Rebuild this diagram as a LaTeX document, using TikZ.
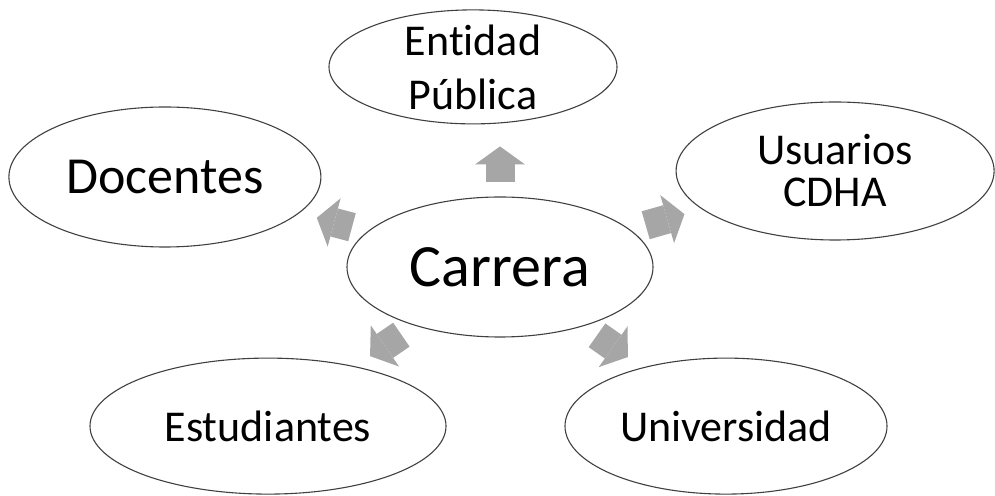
\documentclass[tikz,border=0pt]{standalone}
\usepackage{fontspec}
\setmainfont{Carlito}[Ligatures={NoCommon}]
\usetikzlibrary{arrows.meta,shapes.geometric,positioning}
\definecolor{arrowColor}{RGB}{166,166,166}
\definecolor{borderColor}{RGB}{64,64,64}
\tikzset{entity/.style={ellipse, draw=borderColor, line width=1.1pt, align=center, inner sep=0pt, font=\fontsize{44}{54}\selectfont}}
\tikzset{core/.style={entity, font=\fontsize{60}{72}\selectfont}}
\tikzset{flow/.style={draw=arrowColor, line width=29pt, -{Triangle[length=18pt, width=50pt, line width=0pt]}, shorten <=16pt, shorten >=18pt}}

\begin{document}
\begin{tikzpicture}[x=1pt, y=1pt]
	\useasboundingbox (0,0) rectangle (995,495);
	% Nodes
		\node (carrera) [core, minimum width=306pt, minimum height=140pt] at (500,228) {Carrera};
		\node (entidad) [entity, minimum width=288pt, minimum height=114pt, inner ysep=-8pt, above=72pt of carrera, xshift=-27pt] {Entidad\\ Pública};
		\node (docentes) [entity, minimum width=312pt, minimum height=140pt, font=\fontsize{52}{62}\selectfont, left=25pt of carrera, yshift=90pt] {Docentes};
		\node (usuarios) [entity, minimum width=318pt, minimum height=138pt, font=\fontsize{44}{42}\selectfont, right=22pt of carrera, yshift=96pt] {Usuarios\\ CDHA};
		\node (estudiantes) [entity, minimum width=356pt, minimum height=136pt, below=20pt of carrera, xshift=-232pt] {Estudiantes};
		\node (universidad) [entity, minimum width=322pt, minimum height=136pt, below=20pt of carrera, xshift=226pt] {Universidad};

		% Connectors
		\begin{scope}
		\draw [flow, shorten <=14pt, shorten >=22pt] (carrera.north) -- (carrera.north |- entidad.south);
		\draw [flow] (carrera) -- (docentes);
		\draw [flow] (carrera) -- (usuarios);
		\draw [flow] (carrera) -- (estudiantes);
		\draw [flow] (carrera) -- (universidad);
		\end{scope}

\end{tikzpicture}
\end{document}
